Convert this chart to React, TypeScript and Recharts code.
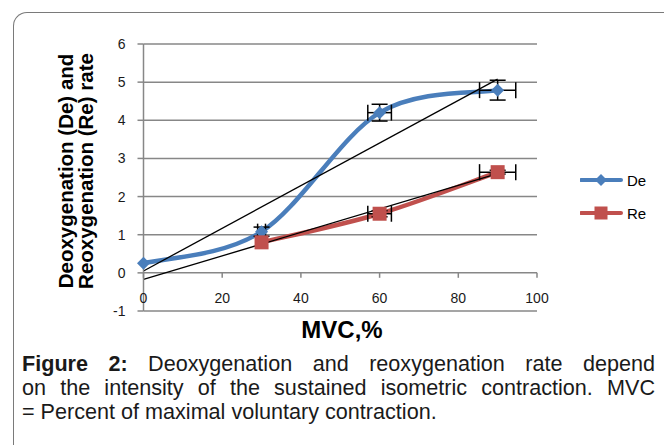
import {
  ComposedChart,
  Line,
  Scatter,
  XAxis,
  YAxis,
  CartesianGrid,
  ErrorBar,
  ReferenceLine,
} from "recharts";

const mvc = [0, 30, 60, 90];
const deValues = [0.25, 1.08, 4.2, 4.79];
const reValues = [null, 0.8, 1.55, 2.64];
const deErrY = [null, 0.12, 0.22, 0.26];
const deErrX = [null, 1, 3, 4.6];
const reErrY = [null, null, 0.08, 0.05];
const reErrX = [null, null, 3, 4.6];
const trendX = [0, 90];
const deTrend = [0.05, 5.08];
const reTrend = [-0.17, 2.6];
const xTicks = [0, 20, 40, 60, 80, 100];
const yTicks = [-1, 0, 1, 2, 3, 4, 5, 6];

const BLUE = "#4A7EBB";
const RED = "#C0504D";
const GRID = "#878787";
const FONT = '"Liberation Sans", Arial, sans-serif';

const deData = mvc.map((x, i) => ({ x, y: deValues[i] }));
const reData = mvc
  .map((x, i) => ({ x, y: reValues[i] }))
  .filter((d) => d.y != null);
const deTrendData = trendX.map((x, i) => ({ x, y: deTrend[i] }));
const reTrendData = trendX.map((x, i) => ({ x, y: reTrend[i] }));
const errData = [
  ...mvc.map((x, i) => ({ x, y: deValues[i], ex: deErrX[i], ey: deErrY[i] })),
  ...mvc.map((x, i) => ({ x, y: reValues[i], ex: reErrX[i], ey: reErrY[i] })),
].filter((d) => d.ey != null && d.y != null);

// Excel-like smoothed line (catmull-rom style bezier)
const excelSmooth = (context: any) => {
  let pts: number[][] = [];
  return {
    areaStart() {},
    areaEnd() {},
    lineStart() {
      pts = [];
    },
    point(x: number, y: number) {
      pts.push([+x, +y]);
    },
    lineEnd() {
      if (!pts.length) return;
      context.moveTo(pts[0][0], pts[0][1]);
      for (let i = 0; i < pts.length - 1; i++) {
        const p0 = pts[Math.max(i - 1, 0)];
        const p1 = pts[i];
        const p2 = pts[i + 1];
        const p3 = pts[Math.min(i + 2, pts.length - 1)];
        context.bezierCurveTo(
          p1[0] + (p2[0] - p0[0]) / 6,
          p1[1] + (p2[1] - p0[1]) / 6,
          p2[0] - (p3[0] - p1[0]) / 6,
          p2[1] - (p3[1] - p1[1]) / 6,
          p2[0],
          p2[1]
        );
      }
    },
  };
};

const Diamond = (props: any) => {
  const { cx, cy, index } = props;
  if (cx == null || cy == null) return <g key={index} />;
  const r = 6.5;
  return (
    <path
      key={index}
      d={`M${cx},${cy - r}L${cx + r},${cy}L${cx},${cy + r}L${cx - r},${cy}Z`}
      fill={BLUE}
    />
  );
};

const Square = (props: any) => {
  const { cx, cy, index } = props;
  if (cx == null || cy == null) return <g key={index} />;
  const r = 7;
  return <rect key={index} x={cx - r} y={cy - r} width={r * 2} height={r * 2} fill={RED} />;
};

const XTick = (props: any) => {
  const { x, y, payload } = props;
  return (
    <text x={x} y={y - 8} textAnchor="middle" fill="#1a1a1a" fontSize={14} fontFamily={FONT}>
      {payload.value}
    </text>
  );
};

const YTitle = () => (
  <text
    transform="translate(73,171) rotate(-90)"
    textAnchor="middle"
    fontSize={20.5}
    fontWeight="bold"
    fontFamily={FONT}
    fill="#000"
  >
    <tspan x={0} y={0}>Deoxygenation (De) and</tspan>
    <tspan x={0} y={20}>Reoxygenation (Re) rate</tspan>
  </text>
);

const XTitle = () => (
  <text x={342} y={338} textAnchor="middle" fontSize={24} fontWeight="bold" fontFamily={FONT} fill="#000">
    MVC,%
  </text>
);

function LegendRow({ color, label, marker }: { color: string; label: string; marker: "diamond" | "square" }) {
  return (
    <div style={{ display: "flex", alignItems: "center", height: 20 }}>
      <svg width={44} height={16} style={{ display: "block" }}>
        <line x1={1} y1={8} x2={41} y2={8} stroke={color} strokeWidth={4} strokeLinecap="round" />
        {marker === "diamond" ? (
          <path d="M21,2L27,8L21,14L15,8Z" fill={color} />
        ) : (
          <rect x={14.5} y={1.5} width={13} height={13} fill={color} />
        )}
      </svg>
      <span style={{ fontSize: 15, fontFamily: FONT, color: "#000", marginLeft: 3 }}>{label}</span>
    </div>
  );
}

export default function App() {
  return (
    <div
      style={{
        position: "absolute",
        left: 0,
        top: 0,
        width: 664,
        height: 445,
        overflow: "hidden",
        background: "#fff",
        fontFamily: FONT,
      }}
    >
      <div
        style={{
          position: "absolute",
          left: 13,
          top: 12,
          width: 720,
          height: 520,
          borderLeft: "1.5px solid #7a7a7a",
          borderTop: "1.5px solid #7a7a7a",
          borderTopLeftRadius: 14,
        }}
      />
      <div style={{ position: "absolute", left: 0, top: 0 }}>
        <ComposedChart width={664} height={445} margin={{ top: 44, right: 127, bottom: 114, left: 83.5 }}>
          <CartesianGrid vertical={false} stroke={GRID} strokeWidth={1.5} />
          <XAxis
            type="number"
            dataKey="x"
            domain={[0, 100]}
            ticks={xTicks}
            interval={0}
            axisLine={false}
            tickLine={false}
            tickSize={0}
            tickMargin={0}
            height={20}
            tick={XTick}
            label={{ content: XTitle }}
          />
          <YAxis
            type="number"
            dataKey="y"
            domain={[-1, 6]}
            ticks={yTicks}
            interval={0}
            width={60}
            axisLine={{ stroke: GRID, strokeWidth: 1.5 }}
            tickLine={{ stroke: GRID, strokeWidth: 1.5 }}
            tickSize={6}
            tickMargin={12}
            tick={{ fill: "#1a1a1a", fontSize: 14, fontFamily: FONT }}
            label={{ content: YTitle }}
          />
          {xTicks.map((t) => (
            <ReferenceLine
              key={t}
              segment={[
                { x: t, y: 0 },
                { x: t, y: -0.13 },
              ]}
              stroke={GRID}
              strokeWidth={1.5}
            />
          ))}
          <Line
            data={deData}
            dataKey="y"
            type={excelSmooth as any}
            stroke={BLUE}
            strokeWidth={4.5}
            dot={Diamond}
            activeDot={false}
            isAnimationActive={false}
          />
          <Line
            data={reData}
            dataKey="y"
            type={excelSmooth as any}
            stroke={RED}
            strokeWidth={4.5}
            dot={Square}
            activeDot={false}
            isAnimationActive={false}
          />
          <Line
            data={deTrendData}
            dataKey="y"
            type="linear"
            stroke="#000"
            strokeWidth={1.3}
            dot={false}
            activeDot={false}
            isAnimationActive={false}
          />
          <Line
            data={reTrendData}
            dataKey="y"
            type="linear"
            stroke="#000"
            strokeWidth={1.3}
            dot={false}
            activeDot={false}
            isAnimationActive={false}
          />
          <Scatter data={errData} dataKey="y" shape={() => <g />} isAnimationActive={false}>
            <ErrorBar dataKey="ey" direction="y" width={8} stroke="#000" strokeWidth={1.5} />
            <ErrorBar dataKey="ex" direction="x" width={8} stroke="#000" strokeWidth={1.5} />
          </Scatter>
        </ComposedChart>
      </div>
      <div style={{ position: "absolute", left: 580, top: 170 }}>
        <LegendRow color={BLUE} label="De" marker="diamond" />
        <div style={{ height: 13 }} />
        <LegendRow color={RED} label="Re" marker="square" />
      </div>
      <div
        style={{
          position: "absolute",
          left: 22,
          top: 352,
          width: 633,
          fontSize: 21.6,
          lineHeight: "24px",
          color: "#1a1a1a",
          fontFamily: FONT,
        }}
      >
        <div style={{ textAlign: "justify", textAlignLast: "justify", whiteSpace: "nowrap" }}>
          <b>Figure 2:</b> Deoxygenation and reoxygenation rate depend
        </div>
        <div style={{ textAlign: "justify", textAlignLast: "justify", whiteSpace: "nowrap" }}>
          on the intensity of the sustained isometric contraction. MVC
        </div>
        <div style={{ whiteSpace: "nowrap" }}>= Percent of maximal voluntary contraction.</div>
      </div>
    </div>
  );
}
